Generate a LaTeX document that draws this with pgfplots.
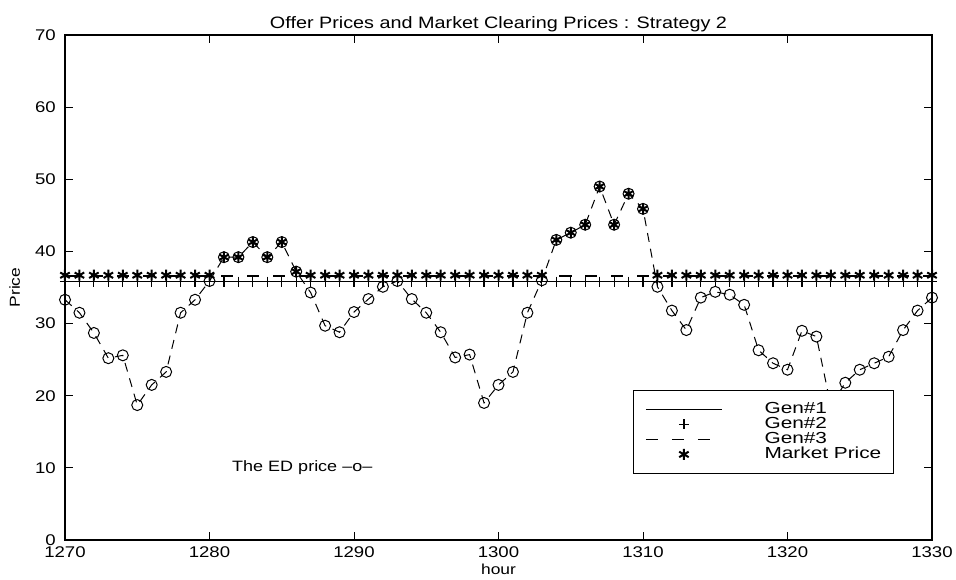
\documentclass[border=0pt]{standalone}
\usepackage{fontspec}
\setmainfont{Liberation Sans}[FakeStretch=1.2]
\newfontfamily\legfont{Liberation Sans}[FakeStretch=1.3]
\usepackage{pgfplots}
\pgfplotsset{compat=1.18}

\pgfplotstableread{
x y
1270 33.3
1271 31.5
1272 28.7
1273 25.2
1274 25.6
1275 18.7
1276 21.5
1277 23.3
1278 31.5
1279 33.3
1280 35.9
1281 39.2
1282 39.2
1283 41.3
1284 39.2
1285 41.3
1286 37.2
1287 34.3
1288 29.7
1289 28.8
1290 31.6
1291 33.4
1292 35.1
1293 35.9
1294 33.4
1295 31.5
1296 28.8
1297 25.3
1298 25.7
1299 19.0
1300 21.5
1301 23.3
1302 31.5
1303 36.0
1304 41.6
1305 42.6
1306 43.7
1307 49.0
1308 43.7
1309 48.0
1310 45.9
1311 35.1
1312 31.8
1313 29.1
1314 33.6
1315 34.4
1316 34.0
1317 32.6
1318 26.3
1319 24.5
1320 23.6
1321 29.0
1322 28.2
1323 18.6
1324 21.8
1325 23.6
1326 24.5
1327 25.4
1328 29.1
1329 31.8
1330 33.6
}\edtable

\pgfplotstableread{
x y
1270 36.7
1271 36.7
1272 36.7
1273 36.7
1274 36.7
1275 36.7
1276 36.7
1277 36.7
1278 36.7
1279 36.7
1280 36.7
1281 39.2
1282 39.2
1283 41.3
1284 39.2
1285 41.3
1286 37.2
1287 36.7
1288 36.7
1289 36.7
1290 36.7
1291 36.7
1292 36.7
1293 36.7
1294 36.7
1295 36.7
1296 36.7
1297 36.7
1298 36.7
1299 36.7
1300 36.7
1301 36.7
1302 36.7
1303 36.7
1304 41.6
1305 42.6
1306 43.7
1307 49.0
1308 43.7
1309 48.0
1310 45.9
1311 36.7
1312 36.7
1313 36.7
1314 36.7
1315 36.7
1316 36.7
1317 36.7
1318 36.7
1319 36.7
1320 36.7
1321 36.7
1322 36.7
1323 36.7
1324 36.7
1325 36.7
1326 36.7
1327 36.7
1328 36.7
1329 36.7
1330 36.7
}\mktable

\pgfplotstableread{
x g1 g2 g3
1270 35.8 35.8 36.6
1271 35.8 35.8 36.6
1272 35.8 35.8 36.6
1273 35.8 35.8 36.6
1274 35.8 35.8 36.6
1275 35.8 35.8 36.6
1276 35.8 35.8 36.6
1277 35.8 35.8 36.6
1278 35.8 35.8 36.6
1279 35.8 35.8 36.6
1280 35.8 35.8 36.6
1281 35.8 35.8 36.6
1282 35.8 35.8 36.6
1283 35.8 35.8 36.6
1284 35.8 35.8 36.6
1285 35.8 35.8 36.6
1286 35.8 35.8 36.6
1287 35.8 35.8 36.6
1288 35.8 35.8 36.6
1289 35.8 35.8 36.6
1290 35.8 35.8 36.6
1291 35.8 35.8 36.6
1292 35.8 35.8 36.6
1293 35.8 35.8 36.6
1294 35.8 35.8 36.6
1295 35.8 35.8 36.6
1296 35.8 35.8 36.6
1297 35.8 35.8 36.6
1298 35.8 35.8 36.6
1299 35.8 35.8 36.6
1300 35.8 35.8 36.6
1301 35.8 35.8 36.6
1302 35.8 35.8 36.6
1303 35.8 35.8 36.6
1304 35.8 35.8 36.6
1305 35.8 35.8 36.6
1306 35.8 35.8 36.6
1307 35.8 35.8 36.6
1308 35.8 35.8 36.6
1309 35.8 35.8 36.6
1310 35.8 35.8 36.6
1311 35.8 35.8 36.6
1312 35.8 35.8 36.6
1313 35.8 35.8 36.6
1314 35.8 35.8 36.6
1315 35.8 35.8 36.6
1316 35.8 35.8 36.6
1317 35.8 35.8 36.6
1318 35.8 35.8 36.6
1319 35.8 35.8 36.6
1320 35.8 35.8 36.6
1321 35.8 35.8 36.6
1322 35.8 35.8 36.6
1323 35.8 35.8 36.6
1324 35.8 35.8 36.6
1325 35.8 35.8 36.6
1326 35.8 35.8 36.6
1327 35.8 35.8 36.6
1328 35.8 35.8 36.6
1329 35.8 35.8 36.6
1330 35.8 35.8 36.6
}\gentable

\begin{document}
\begin{tikzpicture}
\begin{axis}[
  scale only axis, width=867pt, height=505pt,
  xmin=1270, xmax=1330, ymin=0, ymax=70,
  xtick={1270,1280,...,1330}, ytick={0,10,...,70},
  tick align=inside, major tick length=8pt,
  axis line style={line width=1.2pt},
  tick style={line width=0.8pt, black},
  /pgf/number format/assume math mode=true,
  /pgf/number format/1000 sep={},
  tick label style={font=\fontsize{15.5pt}{18pt}\selectfont},
  xticklabel style={inner sep=0pt, yshift=-6pt},
  yticklabel style={inner sep=0pt, xshift=-9pt},
  title={Offer Prices and Market Clearing Prices : Strategy 2},
  title style={font=\fontsize{16.5pt}{19pt}\selectfont, at={(axis description cs:0.5,1)}, anchor=base, yshift=1pt},
  xlabel={hour}, ylabel={Price},
  every axis x label/.style={at={(axis description cs:0.5,-0.058)}, anchor=center, font=\fontsize{14.5pt}{17pt}\selectfont},
  every axis y label/.style={at={(axis description cs:-0.058,0.5)}, anchor=center, rotate=90, font=\fontsize{14.5pt}{17pt}\selectfont},
  clip=false,
  legend image code/.code={\draw[mark repeat=2,mark phase=2,#1] plot coordinates {(0pt,0pt) (38pt,0pt) (76pt,0pt)};},
  legend style={at={(axis description cs:0.655,0.297)}, anchor=north west,
    draw=black, line width=0.8pt, fill=white,
    font=\legfont\fontsize{16pt}{15pt}\selectfont,
    inner xsep=12pt, inner ysep=12pt, row sep=1pt,
    nodes={inner sep=0pt, text height=11.5pt, text depth=2.5pt},
    /tikz/every odd column/.append style={column sep=42pt}},
  legend cell align=left,
]
\addplot[black, line width=1.0pt, dash pattern=on 9pt off 7pt,
  mark=o, mark size=5.5pt, mark options={solid, fill=white, line width=1.0pt}, forget plot] table[x=x,y=y] {\edtable};
\addplot[black, line width=1.3pt, no marks] table[x=x,y=g1] {\gentable};
\addlegendentry{Gen\#1}
\addplot[black, only marks, mark=+, mark size=5pt, mark options={line width=1.2pt}] table[x=x,y=g2] {\gentable};
\addlegendentry{Gen\#2}
\addplot[black, line width=1.2pt, dash pattern=on 12pt off 14pt, no marks] table[x=x,y=g3] {\gentable};
\addlegendentry{Gen\#3}
\addplot[black, only marks, mark=asterisk, mark size=5.5pt, mark options={line width=2pt}] table[x=x,y=y] {\mktable};
\addlegendentry{Market Price}
\node[anchor=base west, inner sep=0pt, font=\fontsize{15pt}{18pt}\selectfont] at (axis cs:1281.56,9.43) {The ED price --o--};
\end{axis}
\pgfresetboundingbox
\path (current axis.south west) ++(-65pt,-39pt) rectangle ++(956pt,579pt);
\end{tikzpicture}
\end{document}
